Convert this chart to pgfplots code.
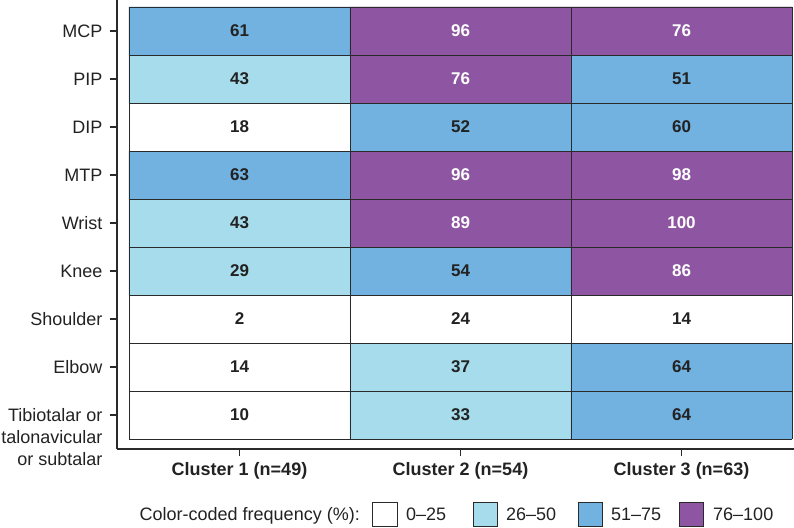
\documentclass[border=0pt]{standalone}
\usepackage{pgfplots}
\pgfplotsset{compat=1.18}
\usepackage{fontspec}
\setmainfont{Liberation Sans}
\definecolor{c0}{HTML}{FFFFFF}
\definecolor{c1}{HTML}{A6DCEB}
\definecolor{c2}{HTML}{72B2E0}
\definecolor{c3}{HTML}{8E55A2}
\definecolor{txt}{HTML}{222222}
\definecolor{axc}{HTML}{2A2A2A}
\begin{document}
\begin{tikzpicture}
\begin{axis}[
  name=ax, at={(0,0)}, anchor=south west,
  scale only axis, width=677pt, height=449pt,
  xmin=-0.5543, xmax=2.509, ymin=-0.7083, ymax=8.646,
  axis x line=bottom, axis y line=left,
  axis line style={axc, line width=1.6pt, -},
  xtick={0,1,2},
  xticklabels={Cluster 1 (n=49), Cluster 2 (n=54), Cluster 3 (n=63)},
  ytick={0,1,2,3,4,5,6,7,8},
  yticklabels={{\begin{tabular}[t]{@{}r@{}}Tibiotalar or\\talonavicular\\or subtalar\end{tabular}},Elbow,Shoulder,Knee,Wrist,MTP,DIP,PIP,MCP},
  tick align=outside, major tick length=7pt,
  tick style={axc, line width=1.2pt},
  xticklabel style={font=\bfseries\fontsize{18}{22}\selectfont, text=txt, yshift=-3pt},
  yticklabel style={font=\fontsize{18}{22}\selectfont, text=txt, anchor=base east, yshift=-6.4pt, xshift=-4pt},
  colormap={cats}{color=(c0) color=(c1) color=(c2) color=(c3)},
  colormap access=direct,
  clip=false,
]
\addplot[matrix plot*, mesh/cols=3, point meta=explicit] table[meta=c] {
x y c
0 0 0
1 0 1
2 0 2
0 1 0
1 1 1
2 1 2
0 2 0
1 2 0
2 2 0
0 3 1
1 3 2
2 3 3
0 4 1
1 4 3
2 4 3
0 5 2
1 5 3
2 5 3
0 6 0
1 6 2
2 6 2
0 7 1
1 7 3
2 7 2
0 8 2
1 8 3
2 8 3
};
% cell borders
\pgfplotsinvokeforeach{-0.5,0.5,1.5,2.5,3.5,4.5,5.5,6.5,7.5,8.5}{\draw[axc, line width=0.8pt] (axis cs:-0.5,#1) -- (axis cs:2.5,#1);}
\pgfplotsinvokeforeach{-0.5,0.5,1.5,2.5}{\draw[axc, line width=0.8pt] (axis cs:#1,-0.5) -- (axis cs:#1,8.5);}
% dark labels
\addplot[draw=none, mark=none, nodes near coords, point meta=explicit symbolic,
  nodes near coords align=center,
  every node near coord/.append style={font=\bfseries\fontsize{17}{17}\selectfont, text=txt, anchor=center}]
  table[meta=v] {
x y v
0 0 10
1 0 33
2 0 64
0 1 14
1 1 37
2 1 64
0 2 2
1 2 24
2 2 14
0 3 29
1 3 54
0 4 43
0 5 63
0 6 18
1 6 52
2 6 60
0 7 43
2 7 51
0 8 61
};
% white labels
\addplot[draw=none, mark=none, nodes near coords, point meta=explicit symbolic,
  nodes near coords align=center,
  every node near coord/.append style={font=\bfseries\fontsize{17}{17}\selectfont, text=white, anchor=center}]
  table[meta=v] {
x y v
2 3 86
1 4 89
2 4 100
1 5 96
2 5 98
1 7 76
1 8 96
2 8 76
};
\end{axis}
% legend
\node[anchor=base east, inner sep=0pt, text=txt, font=\fontsize{18}{22}\selectfont] at (243pt,-71.5pt) {Color-coded frequency (\%):};
\draw[axc, line width=0.8pt, fill=c0] (255pt,-53pt) rectangle (280pt,-77pt);
\node[anchor=base west, inner sep=0pt, text=txt, font=\fontsize{18}{22}\selectfont] at (289pt,-71.5pt) {0–25};
\draw[axc, line width=0.8pt, fill=c1] (356pt,-53pt) rectangle (380pt,-77pt);
\node[anchor=base west, inner sep=0pt, text=txt, font=\fontsize{18}{22}\selectfont] at (389pt,-71.5pt) {26–50};
\draw[axc, line width=0.8pt, fill=c2] (461pt,-53pt) rectangle (485pt,-77pt);
\node[anchor=base west, inner sep=0pt, text=txt, font=\fontsize{18}{22}\selectfont] at (494pt,-71.5pt) {51–75};
\draw[axc, line width=0.8pt, fill=c3] (562pt,-53pt) rectangle (586pt,-77pt);
\node[anchor=base west, inner sep=0pt, text=txt, font=\fontsize{18}{22}\selectfont] at (596pt,-71.5pt) {76–100};
\pgfresetboundingbox
\path (-117pt,-78pt) rectangle (677pt,449pt);
\end{tikzpicture}
\end{document}
